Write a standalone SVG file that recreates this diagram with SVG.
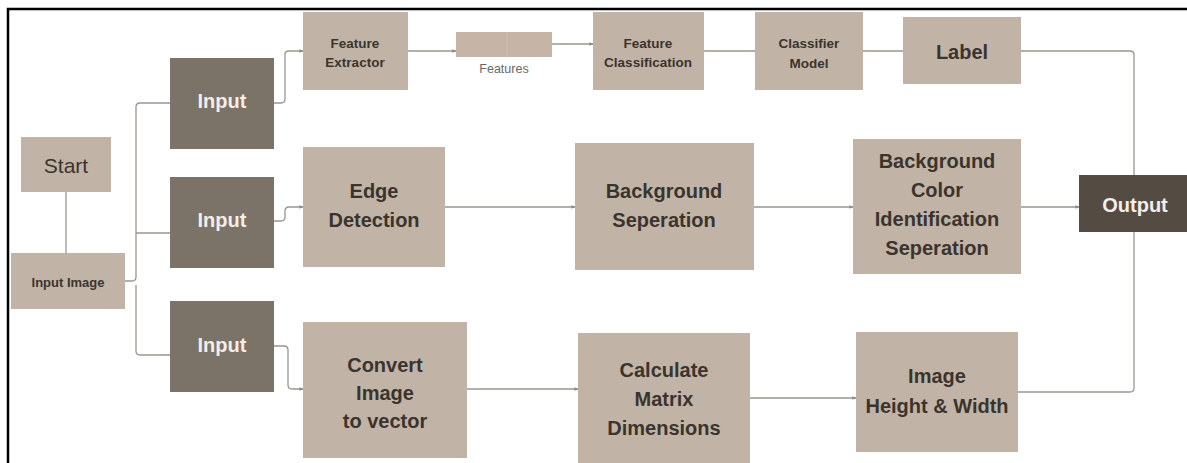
<svg xmlns="http://www.w3.org/2000/svg" width="1187" height="463" viewBox="0 0 1187 463">
  <defs>
    <marker id="tip" viewBox="0 0 6 6" refX="5.5" refY="3" markerWidth="4" markerHeight="4" orient="auto" markerUnits="userSpaceOnUse">
      <path d="M0,0.5 L6,3 L0,5.5 Z" fill="#8f8983"/>
    </marker>
    <style>
      .box { fill: #c1b4a6; }
      .dark { fill: #7b7268; }
      .out { fill: #544b43; }
      .t { font-family: "Liberation Sans", Arial, sans-serif; font-weight: bold; fill: #3b342e; text-anchor: middle; }
      .w { font-family: "Liberation Sans", Arial, sans-serif; font-weight: bold; fill: #f3eee8; text-anchor: middle; font-size: 20px; }
      .sm { font-size: 13.5px; }
      .md { font-size: 20px; }
      .link { fill: none; stroke: #9b958f; stroke-width: 1.3; stroke-linejoin: round; }
      .arr { marker-end: url(#tip); }
    </style>
  </defs>

  <rect width="1187" height="463" fill="#ffffff"/>

  <!-- frame -->
  <path d="M8,463 L8,9 L1187,9" fill="none" stroke="#000" stroke-width="2.5"/>

  <!-- connectors -->
  <g id="connectors">
    <line class="link" x1="66" y1="192" x2="66" y2="253"/>
    <path class="link" d="M125,281 H132 Q136,281 136,277 V107 Q136,103 140,103 H170"/>
    <path class="link" d="M136,285 V351 Q136,355 140,355 H170"/>
    <line class="link" x1="136" y1="233" x2="170" y2="233"/>

    <path class="link arr" d="M274,103 H281 Q285,103 285,99 V54 Q285,51 289,51 H303"/>
    <path class="link arr" d="M274,221 H281 Q285,221 285,217 V211 Q285,207 289,207 H303"/>
    <path class="link arr" d="M274,346 H284 Q288,346 288,350 V385 Q288,389 292,389 H303"/>

    <line class="link arr" x1="408" y1="51" x2="456" y2="51"/>
    <line class="link arr" x1="552" y1="44" x2="593" y2="44"/>
    <line class="link" x1="704" y1="51" x2="755" y2="51"/>
    <line class="link" x1="863" y1="51" x2="903" y2="51"/>
    <path class="link" d="M1021,51 H1130 Q1134,51 1134,55 V175"/>

    <line class="link arr" x1="445" y1="207" x2="575" y2="207"/>
    <line class="link arr" x1="754" y1="207" x2="853" y2="207"/>
    <line class="link arr" x1="1021" y1="207" x2="1079" y2="207"/>

    <line class="link arr" x1="467" y1="389" x2="578" y2="389"/>
    <line class="link arr" x1="750" y1="398" x2="856" y2="398"/>
    <path class="link" d="M1018,392 H1130 Q1134,392 1134,388 V232"/>
  </g>

  <!-- start -->
  <g id="start">
    <rect class="box" x="21" y="137" width="90" height="55"/>
    <text x="66" y="173" style="font-family:'Liberation Sans',Arial,sans-serif;font-size:21px;fill:#3b342e;text-anchor:middle">Start</text>
  </g>

  <g id="input-image">
    <rect class="box" x="11" y="253" width="114" height="56"/>
    <text class="t" x="68" y="287" style="font-size:13px">Input Image</text>
  </g>

  <g id="input-1">
    <rect class="dark" x="170" y="58" width="104" height="91"/>
    <text class="w" x="222" y="108">Input</text>
  </g>
  <g id="input-2">
    <rect class="dark" x="170" y="177" width="104" height="91"/>
    <text class="w" x="222" y="227">Input</text>
  </g>
  <g id="input-3">
    <rect class="dark" x="170" y="301" width="104" height="91"/>
    <text class="w" x="222" y="352">Input</text>
  </g>

  <!-- top row -->
  <g id="feature-extractor">
    <rect class="box" x="303" y="12" width="105" height="78"/>
    <text class="t sm" x="355" y="48">Feature</text>
    <text class="t sm" x="355" y="67">Extractor</text>
  </g>
  <g id="features">
    <rect x="456" y="32" width="96" height="25" fill="#c6b5a6"/>
    <line x1="507" y1="32" x2="507" y2="57" stroke="#cdbfb2" stroke-width="1"/>
    <text x="504" y="73" style="font-family:'Liberation Sans',Arial,sans-serif;font-size:12.5px;fill:#6c6864;text-anchor:middle">Features</text>
  </g>
  <g id="feature-classification">
    <rect class="box" x="593" y="12" width="111" height="78"/>
    <text class="t sm" x="648" y="48">Feature</text>
    <text class="t sm" x="648" y="67">Classification</text>
  </g>
  <g id="classifier-model">
    <rect class="box" x="755" y="12" width="108" height="78"/>
    <text class="t sm" x="809" y="48">Classifier</text>
    <text class="t sm" x="809" y="68">Model</text>
  </g>
  <g id="label">
    <rect class="box" x="903" y="17" width="118" height="67"/>
    <text class="t md" x="962" y="59">Label</text>
  </g>

  <!-- middle row -->
  <g id="edge-detection">
    <rect class="box" x="303" y="147" width="142" height="120"/>
    <text class="t md" x="374" y="198">Edge</text>
    <text class="t md" x="374" y="227">Detection</text>
  </g>
  <g id="background-separation">
    <rect class="box" x="575" y="143" width="179" height="127"/>
    <text class="t md" x="664" y="198">Background</text>
    <text class="t md" x="664" y="227">Seperation</text>
  </g>
  <g id="background-color">
    <rect class="box" x="853" y="139" width="168" height="135"/>
    <text class="t md" x="937" y="168">Background</text>
    <text class="t md" x="937" y="197">Color</text>
    <text class="t md" x="937" y="226">Identification</text>
    <text class="t md" x="937" y="255">Seperation</text>
  </g>
  <g id="output">
    <rect class="out" x="1079" y="175" width="108" height="57"/>
    <text class="w" x="1135" y="212">Output</text>
  </g>

  <!-- bottom row -->
  <g id="convert-image">
    <rect class="box" x="303" y="322" width="164" height="136"/>
    <text class="t md" x="385" y="372">Convert</text>
    <text class="t md" x="385" y="400">Image</text>
    <text class="t md" x="385" y="428">to vector</text>
  </g>
  <g id="calculate-matrix">
    <rect class="box" x="578" y="333" width="172" height="130"/>
    <text class="t md" x="664" y="377">Calculate</text>
    <text class="t md" x="664" y="406">Matrix</text>
    <text class="t md" x="664" y="435">Dimensions</text>
  </g>
  <g id="image-size">
    <rect class="box" x="856" y="332" width="162" height="120"/>
    <text class="t md" x="937" y="383">Image</text>
    <text class="t md" x="937" y="413">Height &amp; Width</text>
  </g>
</svg>
